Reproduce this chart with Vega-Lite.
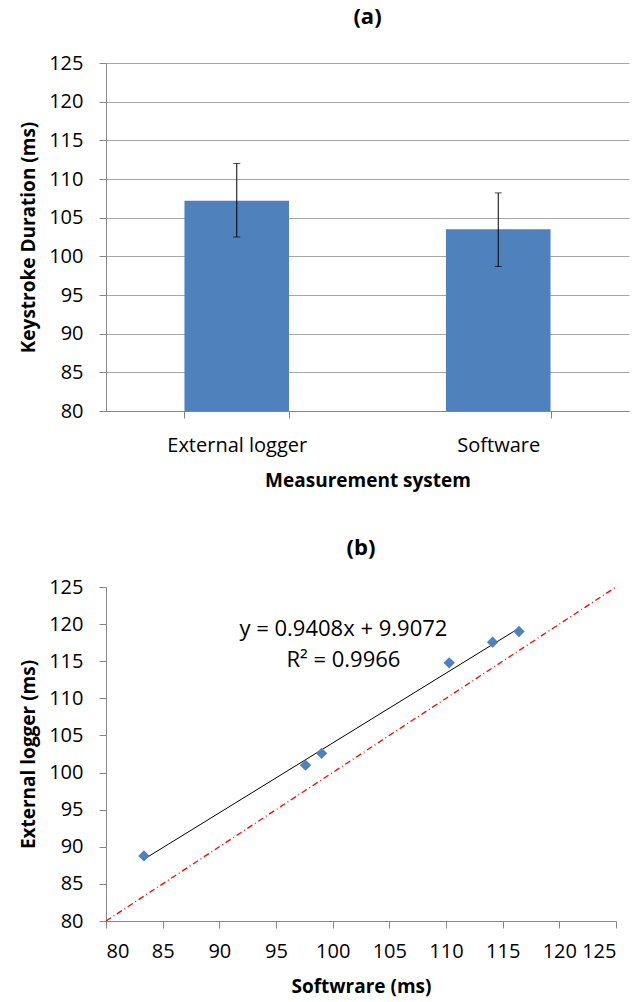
{
  "$schema": "https://vega.github.io/schema/vega-lite/v6.json",
  "padding": {"left": 19, "top": 6, "right": 5, "bottom": 5},
  "background": "white",
  "columns": 1,
  "align": "none",
  "spacing": 47,
  "datasets": {
    "bars": [
      {"system": "External logger", "mean": 107.2, "lo": 102.5, "hi": 112.0},
      {"system": "Software", "mean": 103.5, "lo": 98.7, "hi": 108.2}
    ],
    "points": [
      {"software": 83.35, "external": 88.77},
      {"software": 97.6, "external": 101.0},
      {"software": 99.02, "external": 102.59},
      {"software": 110.28, "external": 114.78},
      {"software": 114.11, "external": 117.57},
      {"software": 116.44, "external": 119.01}
    ],
    "fit": [
      {"software": 83.35, "external": 88.32},
      {"software": 116.44, "external": 119.45}
    ],
    "identity": [
      {"software": 80, "external": 80},
      {"software": 125, "external": 125}
    ],
    "labels": [
      {"line1": "y = 0.9408x + 9.9072", "line2": "R² = 0.9966"}
    ]
  },
  "config": {
    "font": "Open Sans",
    "view": {"stroke": null},
    "axis": {
      "labelFont": "Open Sans",
      "labelFontSize": 20,
      "labelColor": "#000000",
      "labelOverlap": false,
      "titleFont": "Open Sans",
      "titleFontSize": 19,
      "titleFontWeight": "bold",
      "titleColor": "#000000",
      "domainColor": "#868686",
      "tickColor": "#868686",
      "gridColor": "#a6a6a6",
      "tickSize": 7
    },
    "title": {"font": "Open Sans", "fontSize": 22, "fontWeight": "bold", "color": "#000000", "anchor": "middle"}
  },
  "concat": [
    {
      "title": {"text": "(a)", "offset": 24},
      "width": 523,
      "height": 348,
      "data": {"name": "bars"},
      "encoding": {
        "x": {
          "field": "system",
          "type": "nominal",
          "sort": null,
          "scale": {"paddingInner": 0.6, "paddingOuter": 0.3},
          "axis": {"title": "Measurement system", "labelAngle": 0, "tickBand": "extent", "labelPadding": 17, "titlePadding": 16}
        }
      },
      "layer": [
        {
          "mark": {"type": "bar", "color": "#4f81bd"},
          "encoding": {
            "y": {
              "field": "mean",
              "type": "quantitative",
              "scale": {"domain": [80, 125], "zero": false, "nice": false},
              "axis": {"title": "Keystroke Duration (ms)", "values": [80, 85, 90, 95, 100, 105, 110, 115, 120, 125], "grid": true, "labelPadding": 16, "titlePadding": 10}
            },
            "y2": {"datum": 80}
          }
        },
        {
          "mark": {"type": "rule", "color": "#000000", "strokeWidth": 1},
          "encoding": {
            "y": {"field": "lo", "type": "quantitative", "scale": {"domain": [80, 125], "zero": false, "nice": false}, "axis": {"title": "Keystroke Duration (ms)", "values": [80, 85, 90, 95, 100, 105, 110, 115, 120, 125], "grid": true, "labelPadding": 16, "titlePadding": 10}},
            "y2": {"field": "hi"}
          }
        },
        {
          "mark": {"type": "tick", "color": "#000000", "size": 7, "thickness": 1},
          "encoding": {"y": {"field": "lo", "type": "quantitative", "scale": {"domain": [80, 125], "zero": false, "nice": false}, "axis": {"title": "Keystroke Duration (ms)", "values": [80, 85, 90, 95, 100, 105, 110, 115, 120, 125], "grid": true, "labelPadding": 16, "titlePadding": 10}}}
        },
        {
          "mark": {"type": "tick", "color": "#000000", "size": 7, "thickness": 1},
          "encoding": {"y": {"field": "hi", "type": "quantitative", "scale": {"domain": [80, 125], "zero": false, "nice": false}, "axis": {"title": "Keystroke Duration (ms)", "values": [80, 85, 90, 95, 100, 105, 110, 115, 120, 125], "grid": true, "labelPadding": 16, "titlePadding": 10}}}
        }
      ]
    },
    {
      "title": {"text": "(b)", "offset": 17},
      "width": 510,
      "height": 334,
      "layer": [
        {
          "data": {"name": "identity"},
          "mark": {"type": "line", "color": "#ff0000", "strokeWidth": 1.3, "strokeDash": [6, 3, 1, 3]},
          "encoding": {
            "x": {"field": "software", "type": "quantitative", "scale": {"domain": [80, 125], "zero": false, "nice": false}, "axis": {"title": "Softwrare (ms)", "values": [80, 85, 90, 95, 100, 105, 110, 115, 120, 125], "grid": false, "labelPadding": 13, "titlePadding": 16}},
            "y": {"field": "external", "type": "quantitative", "scale": {"domain": [80, 125], "zero": false, "nice": false}, "axis": {"title": "External logger (ms)", "values": [80, 85, 90, 95, 100, 105, 110, 115, 120, 125], "grid": false, "labelPadding": 16, "titlePadding": 10}}
          }
        },
        {
          "data": {"name": "fit"},
          "mark": {"type": "line", "color": "#000000", "strokeWidth": 1},
          "encoding": {
            "x": {"field": "software", "type": "quantitative", "scale": {"domain": [80, 125], "zero": false, "nice": false}, "axis": {"title": "Softwrare (ms)", "values": [80, 85, 90, 95, 100, 105, 110, 115, 120, 125], "grid": false, "labelPadding": 13, "titlePadding": 16}},
            "y": {"field": "external", "type": "quantitative", "scale": {"domain": [80, 125], "zero": false, "nice": false}, "axis": {"title": "External logger (ms)", "values": [80, 85, 90, 95, 100, 105, 110, 115, 120, 125], "grid": false, "labelPadding": 16, "titlePadding": 10}}
          }
        },
        {
          "data": {"name": "points"},
          "mark": {"type": "point", "shape": "diamond", "filled": true, "color": "#4f81bd", "size": 130, "opacity": 1},
          "encoding": {
            "x": {"field": "software", "type": "quantitative", "scale": {"domain": [80, 125], "zero": false, "nice": false}, "axis": {"title": "Softwrare (ms)", "values": [80, 85, 90, 95, 100, 105, 110, 115, 120, 125], "grid": false, "labelPadding": 13, "titlePadding": 16}},
            "y": {"field": "external", "type": "quantitative", "scale": {"domain": [80, 125], "zero": false, "nice": false}, "axis": {"title": "External logger (ms)", "values": [80, 85, 90, 95, 100, 105, 110, 115, 120, 125], "grid": false, "labelPadding": 16, "titlePadding": 10}}
          }
        },
        {
          "data": {"name": "labels"},
          "mark": {"type": "text", "fontSize": 22, "align": "center", "baseline": "middle", "color": "#000000"},
          "encoding": {
            "x": {"datum": 100.95, "type": "quantitative", "scale": {"domain": [80, 125], "zero": false, "nice": false}, "axis": {"title": "Softwrare (ms)", "values": [80, 85, 90, 95, 100, 105, 110, 115, 120, 125], "grid": false, "labelPadding": 13, "titlePadding": 16}},
            "y": {"datum": 119.4, "type": "quantitative", "scale": {"domain": [80, 125], "zero": false, "nice": false}, "axis": {"title": "External logger (ms)", "values": [80, 85, 90, 95, 100, 105, 110, 115, 120, 125], "grid": false, "labelPadding": 16, "titlePadding": 10}},
            "text": {"field": "line1"}
          }
        },
        {
          "data": {"name": "labels"},
          "mark": {"type": "text", "fontSize": 22, "align": "center", "baseline": "middle", "color": "#000000"},
          "encoding": {
            "x": {"datum": 100.95, "type": "quantitative", "scale": {"domain": [80, 125], "zero": false, "nice": false}, "axis": {"title": "Softwrare (ms)", "values": [80, 85, 90, 95, 100, 105, 110, 115, 120, 125], "grid": false, "labelPadding": 13, "titlePadding": 16}},
            "y": {"datum": 115.2, "type": "quantitative", "scale": {"domain": [80, 125], "zero": false, "nice": false}, "axis": {"title": "External logger (ms)", "values": [80, 85, 90, 95, 100, 105, 110, 115, 120, 125], "grid": false, "labelPadding": 16, "titlePadding": 10}},
            "text": {"field": "line2"}
          }
        }
      ]
    }
  ]
}
